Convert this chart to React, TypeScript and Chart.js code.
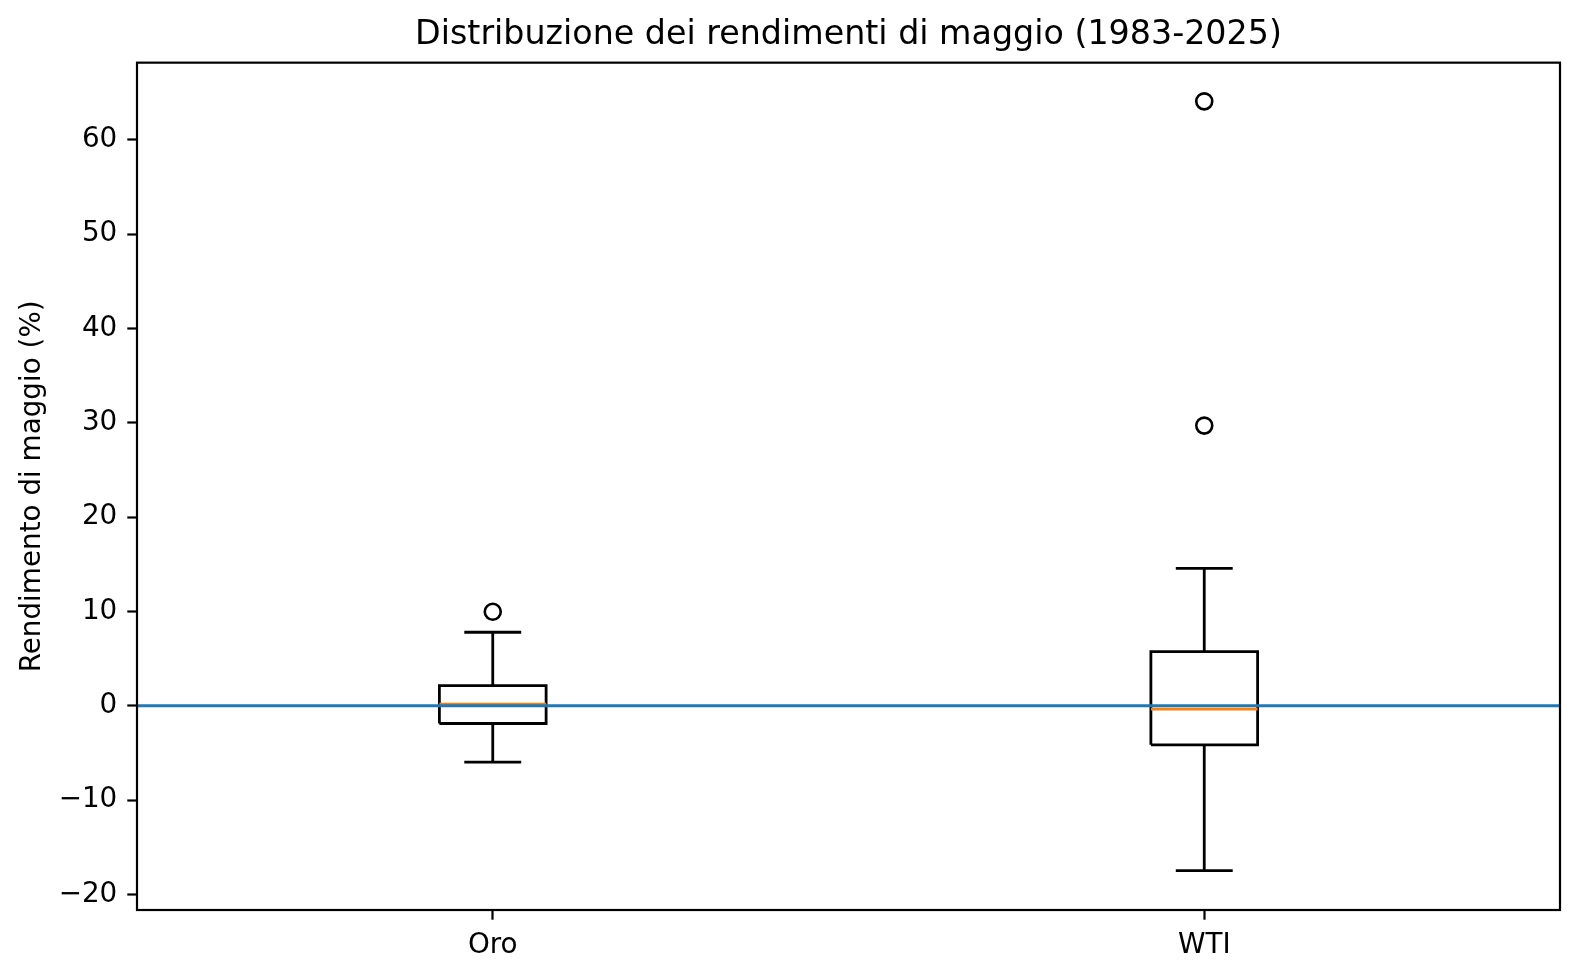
import React, { useEffect, useRef } from "react";
import { Chart, registerables } from "chart.js";

Chart.register(...registerables);

// ---- data ----
const categories = ["Oro", "WTI"];
const whiskerLow = [-5.97, -17.48];
const q1 = [-1.88, -4.14];
const median = [0.17, -0.36];
const q3 = [2.14, 5.74];
const whiskerHigh = [7.79, 14.57];
const outliers = [[9.97], [64.07, 29.7]];
const yTicks = [-20, -10, 0, 10, 20, 30, 40, 50, 60];
const yMin = -21.65;
const yMax = 68.17;
const zeroLine = 0;

const TITLE = "Distribuzione dei rendimenti di maggio (1983-2025)";
const Y_LABEL = "Rendimento di maggio (%)";

const FONT = "'DejaVu Sans', sans-serif";
const BOX_HALF = 0.075;
const CAP_HALF = 0.04;
const LW = 2.8;

function buildDatasets() {
  const ds: any[] = [];
  const line = (data: any[], color: string, width = LW) => ({
    data,
    showLine: true,
    borderColor: color,
    borderWidth: width,
    pointRadius: 0,
    pointHoverRadius: 0,
    fill: false,
    spanGaps: false,
    borderJoinStyle: "miter",
    borderCapStyle: "butt",
  });
  // zero reference line (index 0 => drawn on top)
  ds.push(line([{ x: 0.5, y: zeroLine }, { x: 2.5, y: zeroLine }], "#1f77b4", 3));
  categories.forEach((_, i) => {
    const x = i + 1;
    ds.push(line([{ x: x - BOX_HALF, y: median[i] }, { x: x + BOX_HALF, y: median[i] }], "#ff7f0e"));
    ds.push(
      line(
        [
          { x: x - BOX_HALF, y: q1[i] },
          { x: x + BOX_HALF, y: q1[i] },
          { x: x + BOX_HALF, y: q3[i] },
          { x: x - BOX_HALF, y: q3[i] },
          { x: x - BOX_HALF, y: q1[i] },
        ],
        "#000000"
      )
    );
    ds.push(line([{ x, y: q1[i] }, { x, y: whiskerLow[i] }], "#000000"));
    ds.push(line([{ x, y: q3[i] }, { x, y: whiskerHigh[i] }], "#000000"));
    ds.push(line([{ x: x - CAP_HALF, y: whiskerLow[i] }, { x: x + CAP_HALF, y: whiskerLow[i] }], "#000000"));
    ds.push(line([{ x: x - CAP_HALF, y: whiskerHigh[i] }, { x: x + CAP_HALF, y: whiskerHigh[i] }], "#000000"));
    ds.push({
      data: outliers[i].map((v) => ({ x, y: v })),
      showLine: false,
      pointStyle: "circle",
      pointRadius: 8,
      pointHoverRadius: 8,
      pointBorderWidth: 2.6,
      pointBorderColor: "#000000",
      pointBackgroundColor: "rgba(0,0,0,0)",
    });
  });
  return ds;
}

const framePlugin = {
  id: "frame",
  afterDraw(chart: any) {
    const { ctx, chartArea } = chart;
    ctx.save();
    ctx.strokeStyle = "#000000";
    ctx.lineWidth = 2.2;
    ctx.strokeRect(chartArea.left, chartArea.top, chartArea.right - chartArea.left, chartArea.bottom - chartArea.top);
    ctx.restore();
  },
};

export default function App() {
  const ref = useRef<HTMLCanvasElement | null>(null);
  useEffect(() => {
    document.body.style.margin = "0";
    const canvas = ref.current!;
    const chart = new Chart(canvas, {
      type: "scatter",
      data: { datasets: buildDatasets() },
      plugins: [framePlugin],
      options: {
        animation: false,
        responsive: false,
        devicePixelRatio: 1,
        events: [],
        layout: { padding: { left: 0, right: 20, top: 0, bottom: 0 } },
        plugins: {
          legend: { display: false },
          tooltip: { enabled: false },
          title: {
            display: true,
            text: TITLE,
            fullSize: false,
            color: "#000000",
            font: { family: FONT, size: 33.3, weight: "normal" },
            padding: { top: 15.5, bottom: 7.2 },
          },
        },
        scales: {
          x: {
            type: "linear",
            min: 0.5,
            max: 2.5,
            afterBuildTicks: (scale: any) => {
              scale.ticks = categories.map((_, i) => ({ value: i + 1 }));
            },
            afterFit: (scale: any) => {
              scale.height = 67;
            },
            ticks: {
              color: "#000000",
              font: { family: FONT, size: 27.8 },
              padding: 9,
              maxRotation: 0,
              callback: (v: any) => categories[Math.round(v) - 1] ?? "",
            },
            grid: {
              display: true,
              drawOnChartArea: false,
              drawTicks: true,
              tickLength: 9.7,
              tickWidth: 2.2,
              tickColor: "#000000",
            },
            border: { display: false },
          },
          y: {
            type: "linear",
            min: yMin,
            max: yMax,
            afterBuildTicks: (scale: any) => {
              scale.ticks = yTicks.map((v) => ({ value: v }));
            },
            afterFit: (scale: any) => {
              scale.width = 137;
            },
            ticks: {
              color: "#000000",
              font: { family: FONT, size: 27.8 },
              padding: 10,
              callback: (v: any) => (v < 0 ? "\u2212" + Math.abs(v) : String(v)),
            },
            grid: {
              display: true,
              drawOnChartArea: false,
              drawTicks: true,
              tickLength: 9.7,
              tickWidth: 2.2,
              tickColor: "#000000",
            },
            border: { display: false },
            title: {
              display: true,
              text: Y_LABEL,
              color: "#000000",
              font: { family: FONT, size: 27.8 },
              padding: { top: 16, bottom: 0 },
            },
          },
        },
      } as any,
    });
    return () => chart.destroy();
  }, []);
  return <canvas ref={ref} width={1580} height={977} style={{ display: "block", width: 1580, height: 977 }} />;
}
